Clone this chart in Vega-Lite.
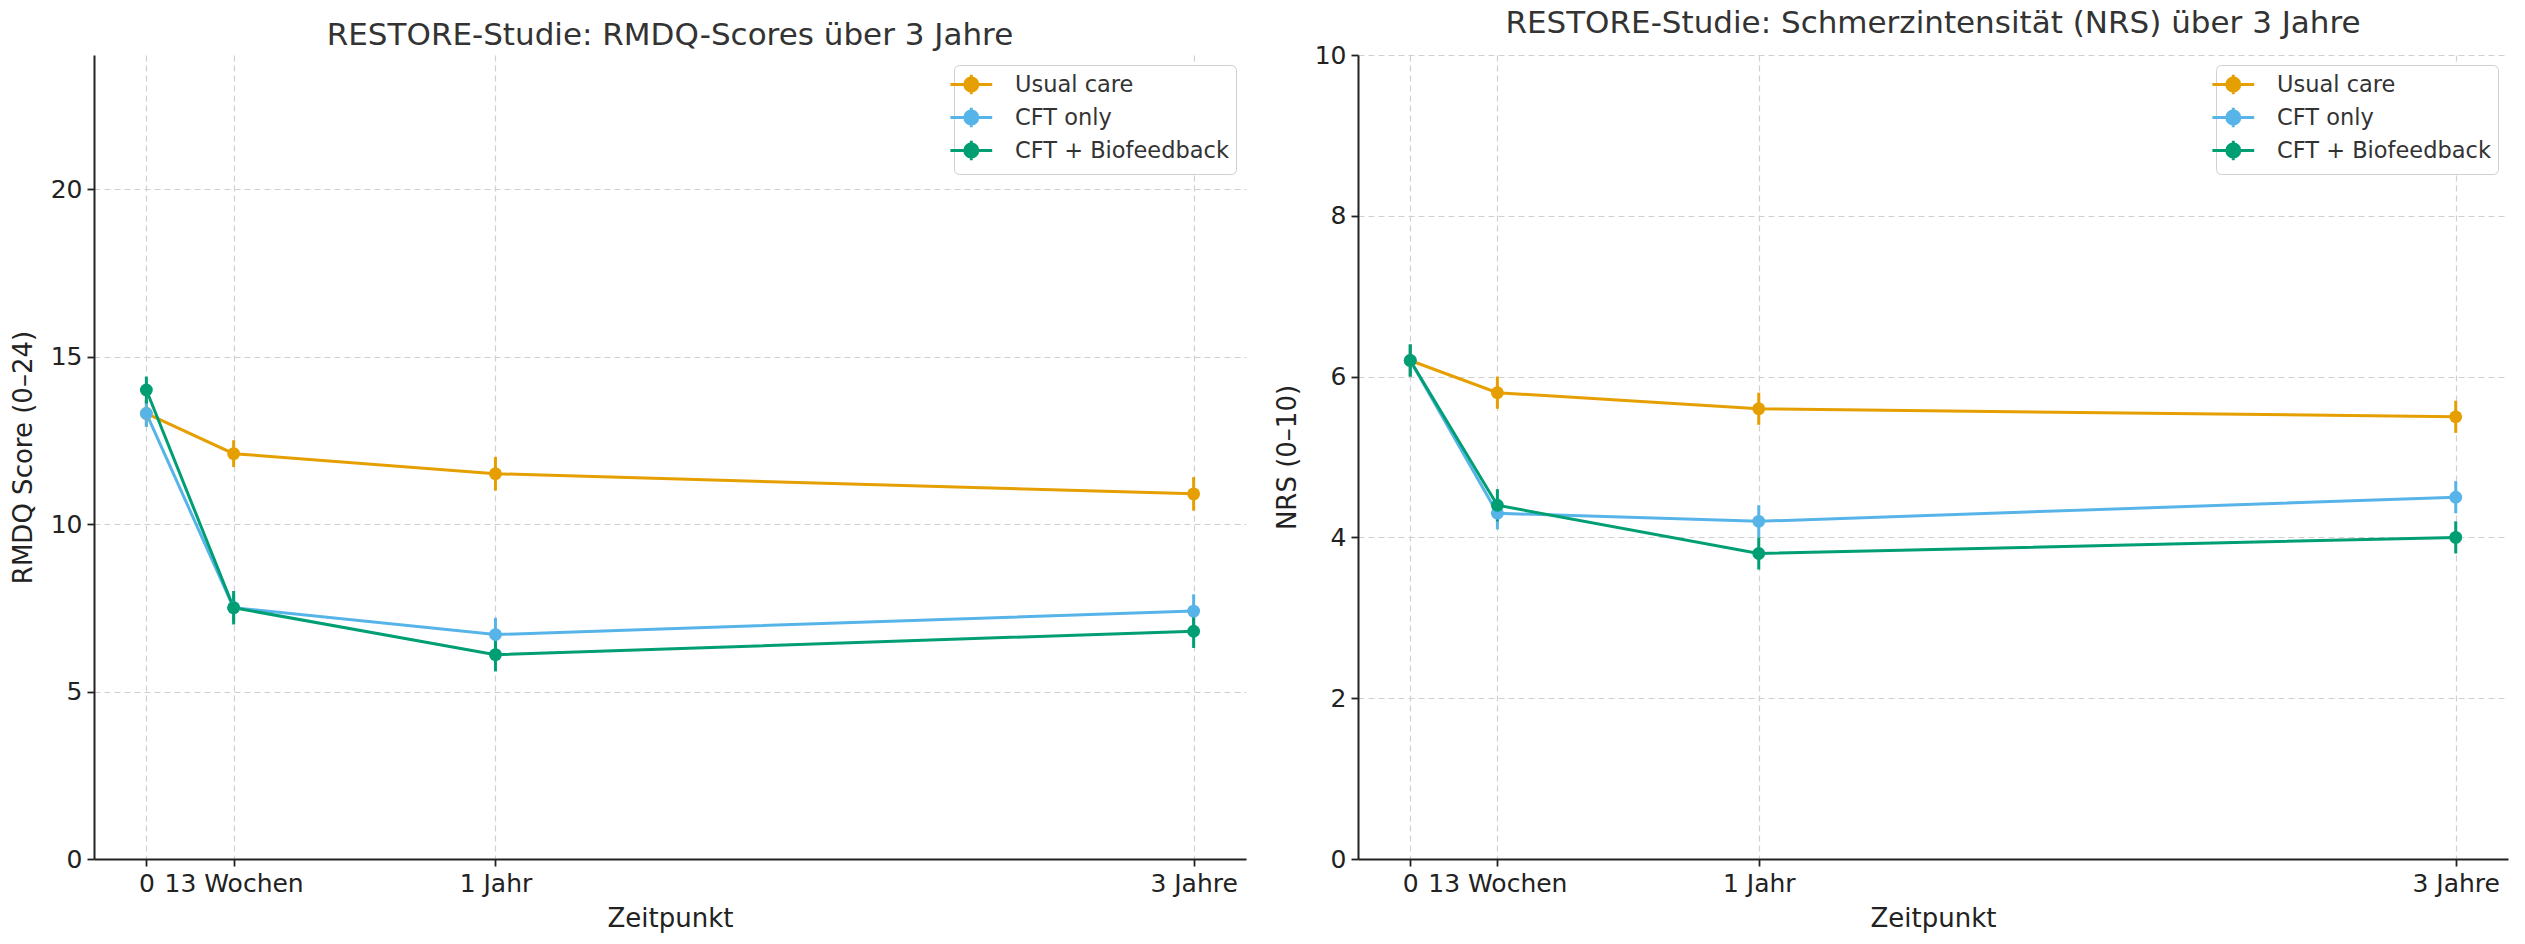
{
  "$schema": "https://vega.github.io/schema/vega-lite/v6.json",
  "background": "white",
  "padding": {"left": 10, "top": 8, "right": 5, "bottom": 5},
  "config": {
    "font": "DejaVu Sans",
    "view": {"stroke": null},
    "axis": {
      "labelFont": "DejaVu Sans", "labelFontSize": 25, "labelColor": "#222",
      "titleFont": "DejaVu Sans", "titleFontSize": 26, "titleColor": "#222", "titleFontWeight": "normal",
      "domainColor": "#222", "domainWidth": 2, "tickColor": "#222", "tickWidth": 1.8, "tickSize": 7,
      "gridColor": "#d0d0d0", "gridDash": [6, 4], "gridWidth": 1.2,
      "labelPadding": 5
    },
    "title": {"font": "DejaVu Sans", "fontSize": 31, "fontWeight": "normal", "color": "#333", "offset": 3},
    "legend": {
      "orient": "top-right", "offset": 10, "padding": 7, "strokeColor": "#d0d0d0", "fillColor": "white",
      "cornerRadius": 5, "labelFont": "DejaVu Sans", "labelFontSize": 22.5, "labelColor": "#333", "labelLimit": 0,
      "title": null, "rowPadding": 0, "symbolSize": 484, "labelOffset": 29, "symbolStrokeWidth": 3,
      "symbolType": "M-2.1,0L1.7,0M-0.2,-0.88L-0.2,0.88M0.39,0A0.59,0.59,0,1,1,-0.79,0A0.59,0.59,0,1,1,0.39,0Z"
    }
  },
  "datasets": {
    "rmdq": [
      {"group": "Usual care", "week": 0, "value": 13.3, "err": 0.4},
      {"group": "Usual care", "week": 13, "value": 12.1, "err": 0.4},
      {"group": "Usual care", "week": 52, "value": 11.5, "err": 0.5},
      {"group": "Usual care", "week": 156, "value": 10.9, "err": 0.5},
      {"group": "CFT only", "week": 0, "value": 13.3, "err": 0.4},
      {"group": "CFT only", "week": 13, "value": 7.5, "err": 0.4},
      {"group": "CFT only", "week": 52, "value": 6.7, "err": 0.5},
      {"group": "CFT only", "week": 156, "value": 7.4, "err": 0.5},
      {"group": "CFT + Biofeedback", "week": 0, "value": 14.0, "err": 0.4},
      {"group": "CFT + Biofeedback", "week": 13, "value": 7.5, "err": 0.5},
      {"group": "CFT + Biofeedback", "week": 52, "value": 6.1, "err": 0.5},
      {"group": "CFT + Biofeedback", "week": 156, "value": 6.8, "err": 0.5}
    ],
    "nrs": [
      {"group": "Usual care", "week": 0, "value": 6.2, "err": 0.2},
      {"group": "Usual care", "week": 13, "value": 5.8, "err": 0.2},
      {"group": "Usual care", "week": 52, "value": 5.6, "err": 0.2},
      {"group": "Usual care", "week": 156, "value": 5.5, "err": 0.2},
      {"group": "CFT only", "week": 0, "value": 6.2, "err": 0.2},
      {"group": "CFT only", "week": 13, "value": 4.3, "err": 0.2},
      {"group": "CFT only", "week": 52, "value": 4.2, "err": 0.2},
      {"group": "CFT only", "week": 156, "value": 4.5, "err": 0.2},
      {"group": "CFT + Biofeedback", "week": 0, "value": 6.2, "err": 0.2},
      {"group": "CFT + Biofeedback", "week": 13, "value": 4.4, "err": 0.2},
      {"group": "CFT + Biofeedback", "week": 52, "value": 3.8, "err": 0.2},
      {"group": "CFT + Biofeedback", "week": 156, "value": 4.0, "err": 0.2}
    ]
  },
  "spacing": 28,
  "resolve": {"scale": {"color": "shared"}, "legend": {"color": "independent"}},
  "hconcat": [
    {
      "title": "RESTORE-Studie: RMDQ-Scores über 3 Jahre",
      "width": 1152, "height": 804,
      "data": {"name": "rmdq"},
      "encoding": {
        "x": {"field": "week", "type": "quantitative", "title": "Zeitpunkt",
          "scale": {"domain": [-7.8, 163.8], "nice": false, "zero": false},
          "axis": {"values": [0, 13, 52, 156], "labelOverlap": false, "labelFlush": false, "titlePadding": 9,
            "labelExpr": "datum.value == 0 ? '0' : datum.value == 13 ? '13 Wochen' : datum.value == 52 ? '1 Jahr' : '3 Jahre'"}},
        "y": {"field": "value", "type": "quantitative", "title": "RMDQ Score (0–24)",
          "scale": {"domain": [0, 24], "nice": false},
          "axis": {"values": [0, 5, 10, 15, 20], "titlePadding": 14}},
        "color": {"field": "group", "type": "nominal",
          "scale": {"domain": ["Usual care", "CFT only", "CFT + Biofeedback"], "range": ["#E69F00", "#56B4E9", "#009E73"]},
          "legend": {"encode": {"symbols": {"update": {"fill": {"scale": "color", "field": "value"}}}}}}
      },
      "layer": [
        {"mark": {"type": "line", "strokeWidth": 3}},
        {"mark": {"type": "errorbar", "thickness": 3}, "encoding": {"yError": {"field": "err"}}},
        {"mark": {"type": "point", "filled": true, "size": 165, "opacity": 1}}
      ]
    },
    {
      "title": "RESTORE-Studie: Schmerzintensität (NRS) über 3 Jahre",
      "width": 1150, "height": 804,
      "data": {"name": "nrs"},
      "encoding": {
        "x": {"field": "week", "type": "quantitative", "title": "Zeitpunkt",
          "scale": {"domain": [-7.8, 163.8], "nice": false, "zero": false},
          "axis": {"values": [0, 13, 52, 156], "labelOverlap": false, "labelFlush": false, "titlePadding": 9,
            "labelExpr": "datum.value == 0 ? '0' : datum.value == 13 ? '13 Wochen' : datum.value == 52 ? '1 Jahr' : '3 Jahre'"}},
        "y": {"field": "value", "type": "quantitative", "title": "NRS (0–10)",
          "scale": {"domain": [0, 10], "nice": false},
          "axis": {"values": [0, 2, 4, 6, 8, 10], "titlePadding": 14}},
        "color": {"field": "group", "type": "nominal",
          "scale": {"domain": ["Usual care", "CFT only", "CFT + Biofeedback"], "range": ["#E69F00", "#56B4E9", "#009E73"]},
          "legend": {"encode": {"symbols": {"update": {"fill": {"scale": "color", "field": "value"}}}}}}
      },
      "layer": [
        {"mark": {"type": "line", "strokeWidth": 3}},
        {"mark": {"type": "errorbar", "thickness": 3}, "encoding": {"yError": {"field": "err"}}},
        {"mark": {"type": "point", "filled": true, "size": 165, "opacity": 1}}
      ]
    }
  ]
}
